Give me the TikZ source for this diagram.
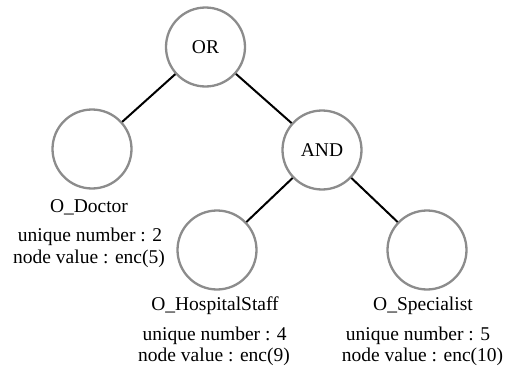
\documentclass[tikz,border=0pt]{standalone}
\usepackage{fontspec}
\setmainfont{Liberation Serif}
\begin{document}
\begin{tikzpicture}[x=1pt,y=-1pt,
  ringnode/.style={circle, draw={rgb,255:red,140;green,140;blue,140}, line width=2.3pt,
    minimum size=79pt, inner sep=0pt, font=\fontsize{19.5}{21.5}\selectfont},
  edge/.style={draw=black, line width=2pt},
  caption/.style={anchor=base, inner sep=0pt, font=\fontsize{19.5}{21.5}\selectfont}]
\useasboundingbox (0,0) rectangle (515,372);

% gate and leaf circles
\node[ringnode] (or)   at (205.5,47) {OR};
\node[ringnode] (doc)  at (92,149)   {};
\node[ringnode] (and)  at (322,150)  {AND};
\node[ringnode] (hs)   at (217,250)  {};
\node[ringnode] (spec) at (427,250)  {};

% tree edges
\draw[edge] (or) -- (doc);
\draw[edge] (or) -- (and);
\draw[edge] (and) -- (hs);
\draw[edge] (and) -- (spec);

% leaf captions
\node[caption] (docname) at (89,212)   {O\_Doctor};
\node[caption] (docnum)  at (90,241.7) {unique number : 2};
\node[caption] (docval)  at (89,263.3) {node value : enc(5)};

\node[caption] (hsname) at (215,310.7) {O\_HospitalStaff};
\node[caption] (hsnum)  at (214.7,340) {unique number : 4};
\node[caption] (hsval)  at (214,361.7) {node value : enc(9)};

\node[caption] (specname) at (423,310.7) {O\_Specialist};
\node[caption] (specnum)  at (418,340)   {unique number : 5};
\node[caption] (specval)  at (422.5,361.7) {node value : enc(10)};
\end{tikzpicture}
\end{document}
